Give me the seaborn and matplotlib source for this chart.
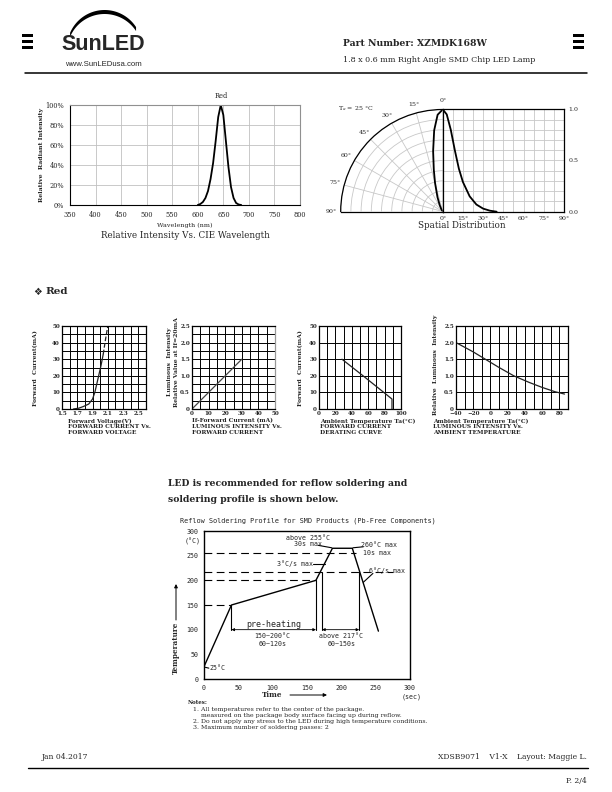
import matplotlib
matplotlib.use("Agg")
import matplotlib.pyplot as plt
import seaborn as sns
import numpy as np
from matplotlib.ticker import MultipleLocator, FixedLocator
from matplotlib.patches import Rectangle

# ---------------- data ----------------
wavelength_nm = [600, 605, 610, 615, 620, 625, 630, 635, 640, 645, 650, 655, 660, 665, 670, 675, 680, 685]
rel_intensity = [0.0, 0.01, 0.03, 0.07, 0.14, 0.26, 0.42, 0.64, 0.88, 1.0, 0.9, 0.64, 0.38, 0.18, 0.07, 0.02, 0.005, 0.0]
wl_ticks = [350, 400, 450, 500, 550, 600, 650, 700, 750, 800]
pct_ticks = [0, 0.2, 0.4, 0.6, 0.8, 1.0]
pct_labels = ["0%", "20%", "40%", "60%", "80%", "100%"]

spatial_angle_deg = [0, 3, 6, 9, 12, 15, 20, 25, 30, 35, 40]
spatial_rel = [1.0, 0.95, 0.8, 0.6, 0.42, 0.29, 0.15, 0.07, 0.03, 0.01, 0.0]
angle_ticks = [0, 15, 30, 45, 60, 75, 90]

vf_volt = [1.65, 1.72, 1.78, 1.85, 1.90, 1.93, 1.97, 2.01, 2.04]
if_ma = [0, 0.5, 1.5, 3.0, 6.0, 10, 18, 26, 33]
vf_ext_volt = [2.04, 2.07, 2.10]
if_ext_ma = [33, 42, 50]
vf_ticks = [1.5, 1.7, 1.9, 2.1, 2.3, 2.5]

lum_if_ma = [0, 10, 20, 30]
lum_rel = [0, 0.5, 1.0, 1.5]

derate_ta = [28, 55, 80, 89, 89]
derate_if = [30, 19.5, 9.6, 6, 0]

amb_ta = [-40, -20, -6, 10, 27, 45, 60, 75, 86]
amb_rel = [2.0, 1.72, 1.5, 1.25, 1.0, 0.8, 0.65, 0.52, 0.45]

rel_ticks = [0, 0.5, 1.0, 1.5, 2.0, 2.5]
rel_labels = ["0", "0.5", "1.0", "1.5", "2.0", "2.5"]

reflow_time_s = [0, 40, 163, 187, 216, 254]
reflow_temp_c = [25, 150, 200, 265, 265, 97]
reflow_ticks = [0, 50, 100, 150, 200, 250, 300]

notes = ["1. All temperatures refer to the center of the package.",
         "    measured on the package body surface facing up during reflow.",
         "2. Do not apply any stress to the LED during high temperature conditions.",
         "3. Maximum number of soldering passes: 2"]

# ---------------- style ----------------
sns.set_style("white")
plt.rcParams["font.family"] = ["DejaVu Serif", "DejaVu Sans"]
plt.rcParams["mathtext.fontset"] = "dejavuserif"
plt.rcParams["axes.linewidth"] = 0.8

W, H = 612, 792
fig = plt.figure(figsize=(6.12, 7.92), dpi=100)


def rect(l, t, r, b):
    return [l / W, 1 - b / H, (r - l) / W, (b - t) / H]


deco = fig.add_axes([0, 0, 1, 1], zorder=0)
deco.set_xlim(0, W)
deco.set_ylim(H, 0)
deco.axis("off")
deco.patch.set_alpha(0)


def T(x, y, s, size=5, ha="left", va="center", **kw):
    deco.text(x, y, s, fontsize=size, ha=ha, va=va, **kw)


# ---------------- header ----------------
ang = np.linspace(np.radians(33), np.radians(157), 60)
cx, cy, rr = 104.6, 47.5, 37.5
ox = cx + rr * np.cos(ang)
oy = cy - rr * np.sin(ang)
iy = cy + 4 - rr * np.sin(ang)
deco.fill(np.concatenate([ox, ox[::-1]]), np.concatenate([oy, iy[::-1]]), color="k", lw=0)
T(103, 45, "SunLED", size=15.5, ha="center", weight="bold",
  family=["Liberation Sans", "DejaVu Sans"])
T(103, 64, "www.SunLEDusa.com", size=5.6, ha="center", family=["Liberation Sans", "DejaVu Sans"])
for x0 in (22, 573):
    for yy in (34, 40, 46):
        deco.add_patch(Rectangle((x0, yy), 11, 3, color="k", lw=0))
T(343, 43, "Part Number: XZMDK168W", size=6.7, weight="bold")
T(343, 60, "1.8 x 0.6 mm Right Angle SMD Chip LED Lamp", size=5.8)
deco.plot([25, 587], [73, 73], color="k", lw=1.1)

# ---------------- spectrum ----------------
ax1 = fig.add_axes(rect(70, 105, 300, 205))
sns.lineplot(x=wavelength_nm, y=rel_intensity, ax=ax1, color="k", lw=1.3, estimator=None, sort=False)
ax1.set_xlim(350, 800)
ax1.set_ylim(0, 1.0)
ax1.set_xticks(wl_ticks)
ax1.set_xticklabels([str(v) for v in wl_ticks], fontsize=4.8)
ax1.set_yticks(pct_ticks)
ax1.set_yticklabels(pct_labels, fontsize=4.8)
ax1.grid(color="#c0c0c0", lw=0.6)
ax1.tick_params(length=0, pad=4)
ax1.set_xlabel("")
ax1.set_ylabel("")
for s in ("left", "bottom"):
    ax1.spines[s].set_color("k")
for s in ("top", "right"):
    ax1.spines[s].set_color("#909090")
T(75, 117, "T$_a$ = 25 °C", size=4.8)
T(221, 96, "Red", size=4.8, ha="center")
T(185, 225, "Wavelength (nm)", size=4.6, ha="center")
T(185, 235.5, "Relative Intensity Vs. CIE Wavelength", size=6.3, ha="center")
T(42, 155, "Relative  Radiant Intensity", size=4.5, ha="center", rotation=90, weight="bold")

# ---------------- spatial distribution ----------------
axp = fig.add_axes(rect(340.7, 109.3, 442.7, 211.7), projection="polar")
axp.set_theta_zero_location("N")
axp.set_theta_direction(1)
axp.set_thetamin(0)
axp.set_thetamax(90)
sns.lineplot(x=np.radians(spatial_angle_deg), y=spatial_rel, ax=axp, color="k", lw=1.3,
             estimator=None, sort=False)
axp.set_rlim(0, 1)
axp.set_yticks(np.arange(0.1, 1.01, 0.1))
axp.set_yticklabels([])
axp.set_xticks(np.radians(angle_ticks))
axp.set_xticklabels([f"{a}°" for a in angle_ticks], fontsize=4.5)
axp.tick_params(pad=-4)
axp.grid(color="#c8c8c8", lw=0.6)
axp.set_xlabel("")
axp.set_ylabel("")
for s in axp.spines.values():
    s.set_color("k")
    s.set_linewidth(0.9)

axr = fig.add_axes(rect(442.7, 109.3, 564, 211.7))
sns.lineplot(x=spatial_angle_deg, y=spatial_rel, ax=axr, color="k", lw=1.3, estimator=None, sort=False)
axr.set_xlim(0, 90)
axr.set_ylim(0, 1)
axr.set_xticks(angle_ticks)
axr.set_xticklabels([f"{a}°" for a in angle_ticks], fontsize=4.5)
axr.xaxis.set_minor_locator(MultipleLocator(7.5))
axr.yaxis.set_major_locator(FixedLocator([0, 0.5, 1.0]))
axr.set_yticklabels(["0.0", "0.5", "1.0"], fontsize=4.5)
axr.yaxis.set_minor_locator(MultipleLocator(0.1))
axr.yaxis.tick_right()
axr.grid(which="both", color="#c8c8c8", lw=0.6)
axr.tick_params(which="both", length=0, pad=3)
axr.set_xlabel("")
axr.set_ylabel("")
for s in axr.spines.values():
    s.set_color("k")
    s.set_linewidth(0.9)
T(338, 109, "T$_a$ = 25 °C", size=4.5)
T(462, 226, "Spatial Distribution", size=6.3, ha="center")

# ---------------- Red section ----------------
T(33, 292, "❖", size=7, weight="bold")
T(45, 292, "Red", size=7.5, weight="bold")

LBL = dict(weight="bold", family=["DejaVu Serif", "DejaVu Sans"])


def small_axes(box, xlim, xticks, xlabels, xminor, ylim, yticks, ylabels, yminor):
    ax = fig.add_axes(rect(*box))
    ax.set_xlim(*xlim)
    ax.set_ylim(*ylim)
    ax.set_xticks(xticks)
    ax.set_xticklabels(xlabels, fontsize=4.1, weight="bold")
    ax.set_yticks(yticks)
    ax.set_yticklabels(ylabels, fontsize=4.1, weight="bold")
    ax.xaxis.set_minor_locator(MultipleLocator(xminor))
    ax.yaxis.set_minor_locator(MultipleLocator(yminor))
    ax.grid(which="both", color="k", lw=0.7)
    ax.tick_params(which="both", length=0, pad=1.5)
    for s in ax.spines.values():
        s.set_color("k")
        s.set_linewidth(0.9)
    return ax


axA = small_axes((62, 326, 146, 409), (1.5, 2.6), vf_ticks, [f"{v:.1f}" for v in vf_ticks], 0.1,
                 (0, 50), [0, 10, 20, 30, 40, 50], ["0", "10", "20", "30", "40", "50"], 5)
sns.lineplot(x=vf_volt, y=if_ma, ax=axA, color="#222222", lw=0.9, estimator=None, sort=False)
sns.lineplot(x=vf_ext_volt, y=if_ext_ma, ax=axA, color="#222222", lw=0.9, linestyle="--",
             estimator=None, sort=False)
axA.set_xlabel("")
axA.set_ylabel("")

axB = small_axes((192, 326, 275, 409), (0, 50), [0, 10, 20, 30, 40, 50],
                 ["0", "10", "20", "30", "40", "50"], 5,
                 (0, 2.5), rel_ticks, rel_labels, 0.25)
sns.lineplot(x=lum_if_ma, y=lum_rel, ax=axB, color="#444444", lw=0.9, estimator=None, sort=False)
axB.spines["right"].set_color("#999999")
axB.set_xlabel("")
axB.set_ylabel("")

axC = small_axes((319, 326, 401, 409), (0, 100), [0, 20, 40, 60, 80, 100],
                 ["0", "20", "40", "60", "80", "100"], 10,
                 (0, 50), [0, 10, 20, 30, 40, 50], ["0", "10", "20", "30", "40", "50"], 10)
sns.lineplot(x=derate_ta, y=derate_if, ax=axC, color="#222222", lw=0.9, estimator=None, sort=False)
axC.set_xlabel("")
axC.set_ylabel("")

axD = small_axes((456, 326, 568, 409), (-40, 90), [-40, -20, 0, 20, 40, 60, 80],
                 ["−40", "−20", "0", "20", "40", "60", "80"], 10,
                 (0, 2.5), rel_ticks, rel_labels, 0.5)
sns.lineplot(x=amb_ta, y=amb_rel, ax=axD, color="#222222", lw=0.9, estimator=None, sort=False)
axD.set_xlabel("")
axD.set_ylabel("")

T(36, 368, "Forward  Current(mA)", size=4.4, ha="center", rotation=90, **LBL)
T(169, 362, "Luminous  Intensity", size=4.4, ha="center", rotation=90, **LBL)
T(176, 362, "Relative Value at If=20mA", size=4.4, ha="center", rotation=90, **LBL)
T(301, 368, "Forward  Current(mA)", size=4.4, ha="center", rotation=90, **LBL)
T(436, 365, "Relative  Luminous  Intensity", size=4.4, ha="center", rotation=90, **LBL)

for x0, lines in ((68, ["Forward Voltage(V)", "FORWARD CURRENT Vs.", "FORWARD VOLTAGE"]),
                  (192, ["If-Forward Current (mA)", "LUMINOUS INTENSITY Vs.", "FORWARD CURRENT"]),
                  (320, ["Ambient Temperature Ta(°C)", "FORWARD CURRENT", "DERATING CURVE"]),
                  (433, ["Ambient Temperature Ta(°C)", "LUMINOUS INTENSITY Vs.", "AMBIENT TEMPERATURE"])):
    for i, s in enumerate(lines):
        T(x0, 421 + i * 6, s, size=4.2, **LBL)

# ---------------- reflow ----------------
T(168, 484, "LED is recommended for reflow soldering and", size=6.7, weight="bold")
T(168, 499, "soldering profile is shown below.", size=6.7, weight="bold")
T(180, 521, "Reflow Soldering Profile for SMD Products (Pb-Free Components)", size=4.95,
  family=["DejaVu Sans Mono"])

axR = fig.add_axes(rect(204, 531, 410, 679))
sns.lineplot(x=reflow_time_s, y=reflow_temp_c, ax=axR, color="k", lw=1.0, estimator=None, sort=False)
axR.set_xlim(0, 300)
axR.set_ylim(0, 300)
axR.set_xticks(reflow_ticks)
axR.set_xticklabels([str(v) for v in reflow_ticks], fontsize=4.8, family="DejaVu Sans Mono")
axR.set_yticks(reflow_ticks)
axR.set_yticklabels([str(v) for v in reflow_ticks], fontsize=4.8, family="DejaVu Sans Mono")
axR.tick_params(axis="y", length=3, width=0.7, direction="out", pad=1)
axR.tick_params(axis="x", length=0, pad=4)
axR.set_xlabel("")
axR.set_ylabel("")
for s in axR.spines.values():
    s.set_color("k")
    s.set_linewidth(1.0)

dash = dict(color="k", lw=0.8, linestyle=(0, (7, 4)))
axR.plot([0, 40], [150, 150], **dash)
axR.plot([0, 163], [200, 200], **dash)
axR.plot([0, 275], [217, 217], **dash)
axR.plot([0, 222], [255, 255], **dash)
solid = dict(color="k", lw=0.8)
axR.plot([40, 40], [150, 100], **solid)
axR.plot([163, 163], [200, 100], **solid)
axR.plot([172, 172], [217, 100], **solid)
axR.plot([226, 226], [217, 100], **solid)
arr = dict(arrowstyle="<|-|>", lw=0.6, color="k", shrinkA=0, shrinkB=0, mutation_scale=4)
axR.annotate("", xy=(40, 100), xytext=(163, 100), arrowprops=arr)
axR.annotate("", xy=(172, 100), xytext=(226, 100), arrowprops=arr)

mono = dict(family=["DejaVu Sans Mono"], fontsize=4.8)
axR.text(102, 110, "pre-heating", ha="center", va="center", family=["DejaVu Sans Mono"], fontsize=6)
axR.text(100, 88, "150~200°C", ha="center", va="center", **mono)
axR.text(100, 70, "60~120s", ha="center", va="center", **mono)
axR.text(200, 88, "above 217°C", ha="center", va="center", **mono)
axR.text(200, 70, "60~150s", ha="center", va="center", **mono)
axR.text(152, 286, "above 255°C", ha="center", va="center", **mono)
axR.text(152, 274, "30s max", ha="center", va="center", **mono)
axR.plot([166, 186], [271, 266], **solid)
axR.text(255, 272, "260°C max", ha="center", va="center", **mono)
axR.text(252, 255, "10s max", ha="center", va="center", **mono)
axR.plot([232, 217], [268, 266], **solid)
axR.text(132, 234, "3°C/s max", ha="center", va="center", **mono)
axR.plot([159, 176], [234, 234], **solid)
axR.text(266, 220, "6°C/s max", ha="center", va="center", **mono)
axR.plot([246, 232], [214, 196], **solid)
axR.text(8, 22, "25°C", ha="left", va="center", **mono)
axR.plot([1, 7], [24, 22], **solid)

T(193, 541, "(°C)", size=4.8, ha="center", family=["DejaVu Sans Mono"])
T(412, 697, "(sec)", size=4.8, ha="center", family=["DejaVu Sans Mono"])
T(272, 695, "Time", size=5.2, ha="center", weight="bold")
deco.annotate("", xy=(327, 695), xytext=(290, 695),
              arrowprops=dict(arrowstyle="-|>", lw=0.7, color="k", mutation_scale=5, shrinkA=0, shrinkB=0))
T(176, 648, "Temperature", size=5.2, ha="center", rotation=90, weight="bold")
deco.annotate("", xy=(176, 584), xytext=(176, 620),
              arrowprops=dict(arrowstyle="-|>", lw=0.7, color="k", mutation_scale=5, shrinkA=0, shrinkB=0))

T(188, 702, "Notes:", size=4.0, weight="bold")
for i, s in enumerate(notes):
    T(193, 709 + i * 6.3, s, size=4.5)

# ---------------- footer ----------------
T(42, 757, "Jan 04.2017", size=5.5)
T(587, 757, "XDSB9071    V1-X    Layout: Maggie L.", size=5.5, ha="right")
deco.plot([28, 588], [768, 768], color="k", lw=1.0)
T(587, 781, "P. 2/4", size=5.5, ha="right")

fig.savefig("out.png", dpi=100)
